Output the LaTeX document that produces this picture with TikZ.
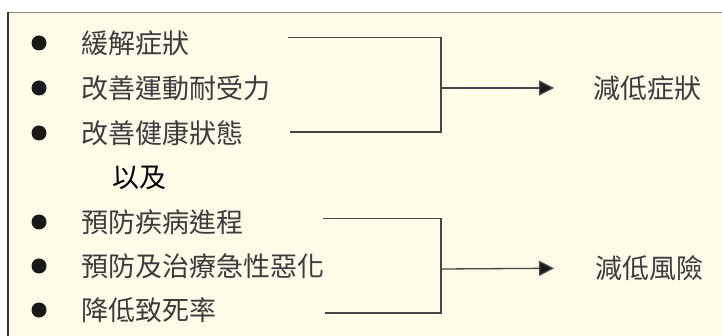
\documentclass[tikz,border=0pt]{standalone}
\usepackage{fontspec}
\setmainfont{Noto Sans CJK TC}
\usetikzlibrary{arrows.meta}
\definecolor{cream}{RGB}{255,251,232}
\definecolor{txt}{RGB}{60,60,60}
\definecolor{framegray}{RGB}{135,135,135}
\definecolor{linegray}{RGB}{70,70,70}
\tikzset{
  item/.style={anchor=west,inner sep=0pt,text=txt,font=\fontsize{27}{31}\selectfont},
  result/.style={anchor=west,inner sep=0pt,text=txt,font=\fontsize{27}{31}\selectfont},
  bulletdot/.style={circle,fill=black!90,inner sep=0pt,minimum size=15pt},
  link/.style={draw=linegray,line width=1.3pt},
  arr/.style={link,-{Triangle[length=15pt,width=15pt,fill=black!90]}}
}
\begin{document}
\begin{tikzpicture}[x=1pt,y=-1pt]
\useasboundingbox (0,0) rectangle (722,336);
% frame
\fill[cream] (8,12.5) rectangle (722,336);
\draw[framegray,line width=1.6pt] (8,12.5) -- (722,12.5);
\draw[black!80,line width=1.2pt] (8,12.5) -- (8,336);
% bullets
\foreach \n/\y in {b1/43,b2/88,b3/133,b5/222,b6/266,b7/310}
  \node[bulletdot] (\n) at (39,\y) {};
% items
\node[item] (t1) at (81,43) {緩解症狀};
\node[item] (t2) at (81,88) {改善運動耐受力};
\node[item] (t3) at (81,133) {改善健康狀態};
\node[item,text=black] (t4) at (112,178) {以及};
\node[item] (t5) at (81,222) {預防疾病進程};
\node[item] (t6) at (81,266) {預防及治療急性惡化};
\node[item] (t7) at (81,310) {降低致死率};
% results
\node[result] (r1) at (593,88) {減低症狀};
\node[result] (r2) at (595,268) {減低風險};
% top group connectors
\coordinate (s1) at (288,37.5);
\coordinate (s3) at (290,132);
\coordinate (j1) at (441,88);
\draw[link] (s1) -- (s1 -| j1) -- (s3 -| j1) -- (s3);
\draw[arr,shorten >=39pt] (j1) -- (r1.west);
% bottom group connectors
\coordinate (s5) at (323,218.5);
\coordinate (s7) at (325,313);
\coordinate (j2) at (441,269);
\draw[link] (s5) -- (s5 -| j2) -- (s7 -| j2) -- (s7);
\draw[arr,shorten >=41pt] (j2) -- (r2.west);
\end{tikzpicture}
\end{document}
